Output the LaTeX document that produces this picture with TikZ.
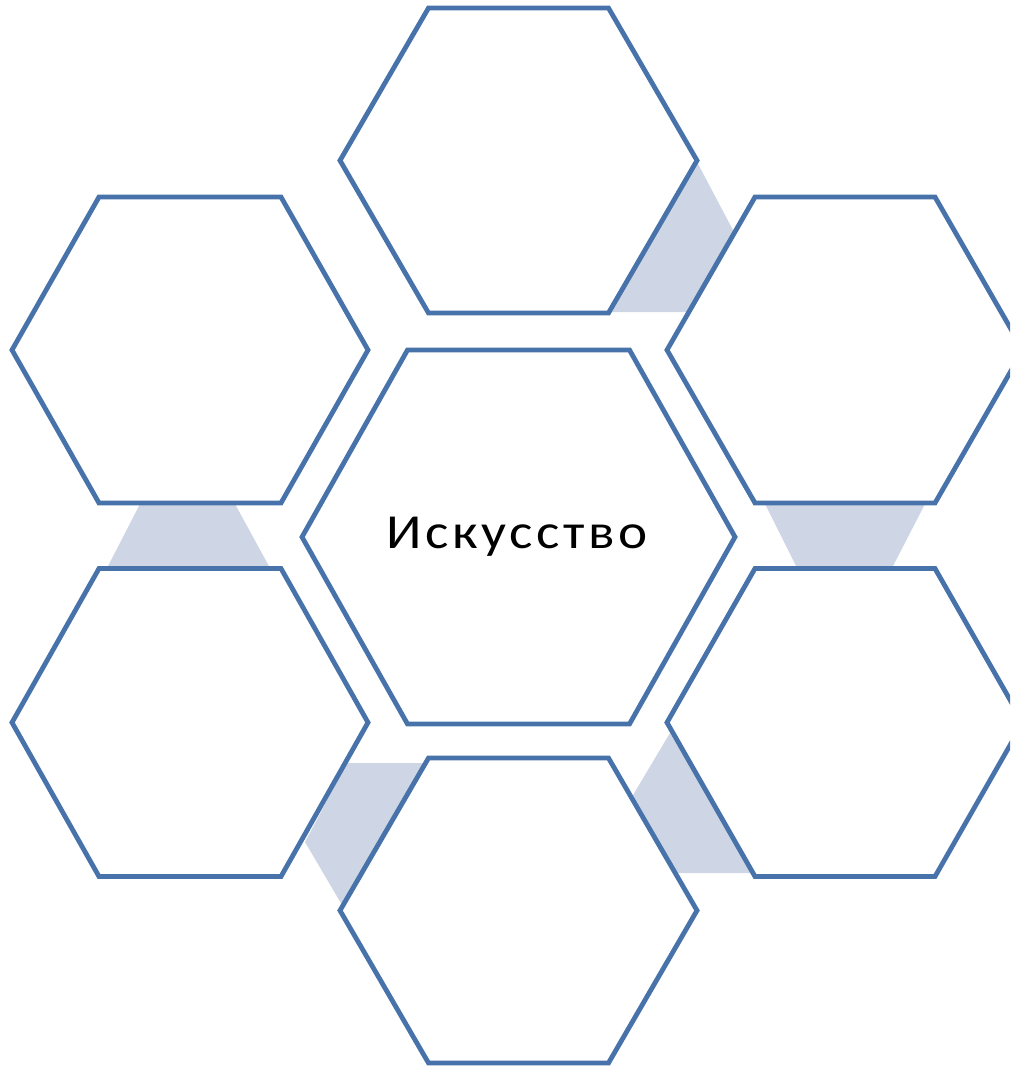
\documentclass[tikz,border=0pt]{standalone}
\usepackage{fontspec}
\setmainfont{Carlito}
\newfontfamily\spacedfont[LetterSpace=6.5]{Carlito}
\definecolor{hexblue}{RGB}{72,115,170}
\definecolor{linkgray}{RGB}{206,214,229}
\tikzset{
  hexline/.style={draw=hexblue, line width=4.8pt, line join=miter, fill=white},
  linkshape/.style={fill=linkgray, draw=none},
  label/.style={font=\spacedfont\fontsize{48}{56}\selectfont, text=black, inner sep=0pt}
}
\newcommand\hexshape[6]{% name, cx, cy, w, a, h
  \coordinate (#1) at (#2,#3);
  \draw[hexline] (#2-#4,#3) -- (#2-#5,#3-#6) -- (#2+#5,#3-#6) -- (#2+#4,#3)
     -- (#2+#5,#3+#6) -- (#2-#5,#3+#6) -- cycle;
}
\begin{document}
\begin{tikzpicture}[x=1pt,y=-1pt]
\useasboundingbox (0,0) rectangle (1010,1068);
\clip (0,0) rectangle (1010,1068);
% connector shapes
\fill[linkshape] (697,162) -- (734,232) -- (687,312) -- (612,312) -- cycle;
\fill[linkshape] (140,504) -- (235,504) -- (270,568) -- (107,568) -- cycle;
\fill[linkshape] (765,504) -- (925,504) -- (892,568) -- (797,568) -- cycle;
\fill[linkshape] (347,763) -- (425,763) -- (342,905) -- (305,842) -- cycle;
\fill[linkshape] (670,733) -- (752,873) -- (675,873) -- (633,795) -- cycle;
% hexagons
\hexshape{top}{518.5}{160.5}{178.5}{90}{152.5}
\hexshape{topleft}{190}{350}{178}{91}{153}
\hexshape{topright}{845}{350}{178}{90}{153}
\hexshape{botleft}{190}{722.5}{178}{91}{154}
\hexshape{botright}{845}{722.5}{178}{90}{154}
\hexshape{bottom}{518.5}{910.5}{178.5}{90}{152.5}
\hexshape{center}{518.5}{537}{216.5}{111}{187}
\node[label, anchor=base] (title) at (517,548) {\scalebox{1.15}[1.02]{Искусство}};
\end{tikzpicture}
\end{document}
